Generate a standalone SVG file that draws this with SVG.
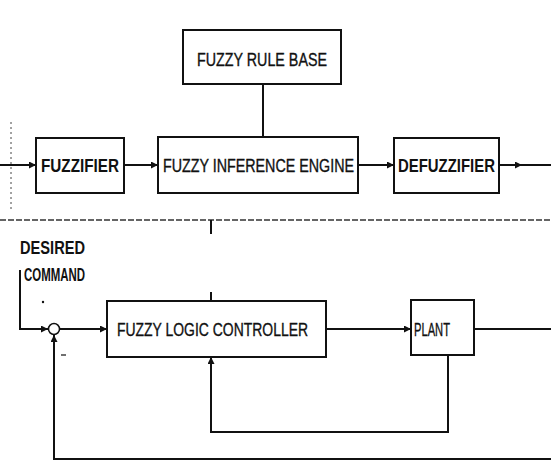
<svg xmlns="http://www.w3.org/2000/svg" width="551" height="461" viewBox="0 0 551 461">
<style>
.box{fill:#fff;stroke:#111;stroke-width:2}
.ln{fill:none;stroke:#111;stroke-width:2}
.dash{fill:none;stroke:#333;stroke-width:1.5;stroke-dasharray:6 2}
.dot{fill:none;stroke:#444;stroke-width:1;stroke-dasharray:2 3}
.t{font-family:"Liberation Sans",Arial,sans-serif;font-size:18px;fill:#111;stroke:#111;stroke-width:0.35;text-anchor:start}
.b{font-weight:bold;stroke-width:0}
</style>
<defs>
<marker id="ah" viewBox="0 0 10 10" refX="10" refY="5" markerWidth="10" markerHeight="7" markerUnits="userSpaceOnUse" orient="auto">
<path d="M0,0 L10,5 L0,10 z" fill="#111"/>
</marker>
</defs>
<rect width="551" height="461" fill="#fff"/>
<g id="frame">
<line class="dot" x1="11" y1="122" x2="11" y2="212"/>
<line class="dash" x1="0" y1="220" x2="551" y2="220"/>
</g>
<g id="connectors">
<line class="ln" x1="263" y1="84" x2="263" y2="137"/>
<line class="ln" x1="0" y1="165" x2="36" y2="165" marker-end="url(#ah)"/>
<line class="ln" x1="124" y1="165" x2="158" y2="165" marker-end="url(#ah)"/>
<line class="ln" x1="358" y1="165" x2="394" y2="165" marker-end="url(#ah)"/>
<line class="ln" x1="499" y1="165" x2="522" y2="165" marker-end="url(#ah)"/>
<line class="ln" x1="520" y1="165" x2="551" y2="165"/>
<line class="ln" x1="211" y1="220" x2="211" y2="234"/>
<line class="ln" x1="211" y1="292" x2="211" y2="301"/>
<polyline class="ln" points="20,270 20,329 48,329" marker-end="url(#ah)"/>
<line class="ln" x1="60" y1="329" x2="107" y2="329" marker-end="url(#ah)"/>
<line class="ln" x1="326" y1="329" x2="411" y2="329" marker-end="url(#ah)"/>
<line class="ln" x1="474" y1="329" x2="551" y2="329"/>
<polyline class="ln" points="448,355 448,432 211,432 211,357" marker-end="url(#ah)"/>
<polyline class="ln" points="551,459 54,459 54,335" marker-end="url(#ah)"/>
</g>
<g id="rulebase">
<rect class="box" x="183" y="30" width="158" height="54"/>
<text class="t" x="197" y="65.5" textLength="130" lengthAdjust="spacingAndGlyphs">FUZZY RULE BASE</text>
</g>
<g id="fuzzifier">
<rect class="box" x="36" y="138" width="88" height="55"/>
<text class="t b" x="41" y="171.5" textLength="78" lengthAdjust="spacingAndGlyphs">FUZZIFIER</text>
</g>
<g id="inference">
<rect class="box" x="158" y="137" width="200" height="56"/>
<text class="t" x="163" y="171.5" textLength="191" lengthAdjust="spacingAndGlyphs">FUZZY INFERENCE ENGINE</text>
</g>
<g id="defuzzifier">
<rect class="box" x="394" y="138" width="105" height="55"/>
<text class="t b" x="398" y="171.5" textLength="97" lengthAdjust="spacingAndGlyphs">DEFUZZIFIER</text>
</g>
<g id="command">
<text class="t b" x="20" y="253.5" font-size="15" textLength="65" lengthAdjust="spacingAndGlyphs">DESIRED</text>
<text class="t b" x="24" y="280.5" font-size="15" textLength="61" lengthAdjust="spacingAndGlyphs">COMMAND</text>
</g>
<g id="summer">
<circle cx="54" cy="329" r="5.5" fill="#fff" stroke="#111" stroke-width="1.5"/>
<circle cx="43" cy="302" r="1.2" fill="#111"/>
<line x1="61" y1="355" x2="66" y2="355" stroke="#111" stroke-width="1.2"/>
</g>
<g id="flc">
<rect class="box" x="107" y="301" width="219" height="56"/>
<text class="t" x="117" y="336" textLength="191" lengthAdjust="spacingAndGlyphs">FUZZY LOGIC CONTROLLER</text>
</g>
<g id="plant">
<rect class="box" x="411" y="300" width="63" height="55"/>
<text class="t" x="414" y="336" textLength="36" lengthAdjust="spacingAndGlyphs">PLANT</text>
</g>
</svg>
